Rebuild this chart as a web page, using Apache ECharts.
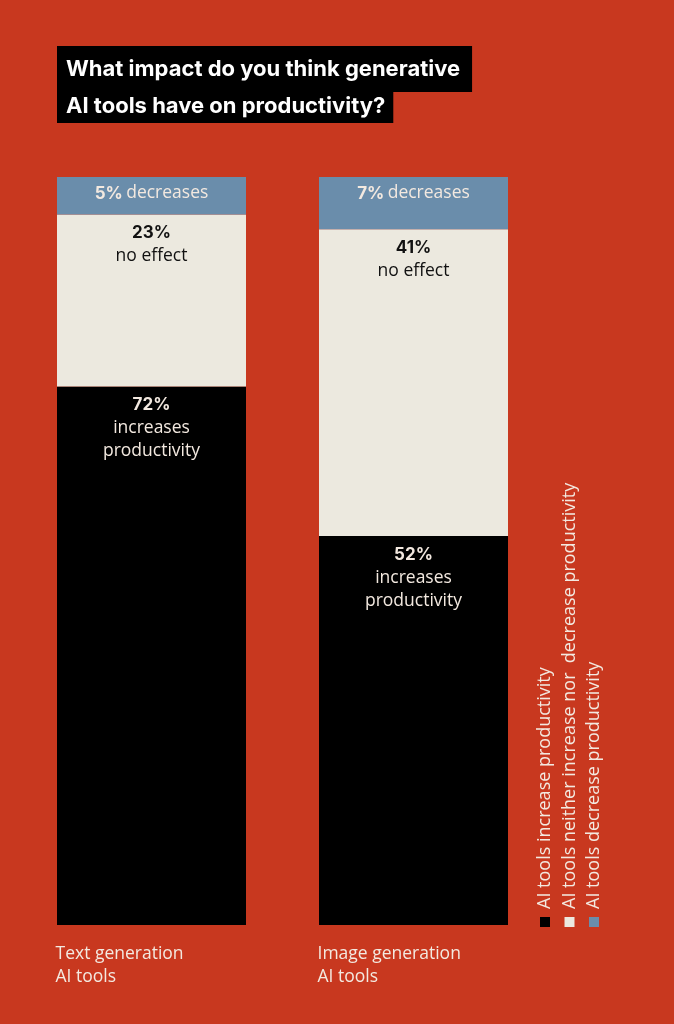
<!DOCTYPE html>
<html>
<head>
<meta charset="utf-8">
<script src="https://cdn.jsdelivr.net/npm/echarts@6/dist/echarts.min.js"></script>
<style>
  html, body { margin: 0; padding: 0; background: #C8381F; }
  #chart { width: 674px; height: 1024px; }
</style>
</head>
<body>
<div id="chart"></div>
<script>
const categories = ['Text generation\nAI tools', 'Image generation\nAI tools'];
const increaseValues = [72, 52];
const noEffectValues = [23, 41];
const decreaseValues = [5, 7];
const seriesNames = [
  'AI tools increase productivity',
  'AI tools neither increase nor  decrease productivity',
  'AI tools decrease productivity'
];
const segmentTexts = ['increases\nproductivity', 'no effect', 'decreases'];
const titleLines = ['What impact do you think generative', 'AI tools have on productivity?'];

const BG = '#C8381F';
const CREAM = '#ECE9DF';
const BLUE = '#6A8DAB';
const LIGHT = '#F3E9E0';
const FONT = '"Open Sans", "Noto Sans", sans-serif';
const BOLD_FONT = 'Inter, sans-serif';
const colors = ['#000000', CREAM, BLUE];

let myChart = echarts.init(document.getElementById('chart'));

function richFor(color) {
  return {
    b: { fontFamily: BOLD_FONT, fontWeight: 'bold', fontSize: 17, color: color, lineHeight: 23 },
    t: { fontFamily: FONT, fontSize: 17.5, color: color, lineHeight: 23 }
  };
}

// legend drawn as rotated text, reading bottom to top
let legendGraphics = [];
seriesNames.forEach(function (name, i) {
  let cx = 545 + i * 24.5;
  legendGraphics.push({
    type: 'rect',
    shape: { x: cx - 5, y: 917, width: 10, height: 10 },
    style: { fill: colors[i] }
  });
  legendGraphics.push({
    type: 'text',
    x: cx,
    y: 909,
    rotation: Math.PI / 2,
    style: {
      text: name,
      fill: LIGHT,
      font: '18px ' + FONT,
      textAlign: 'left',
      textVerticalAlign: 'middle'
    }
  });
});

let option = {
  backgroundColor: BG,
  animation: false,
  title: [
    {
      text: titleLines[0],
      left: 57,
      top: 46,
      backgroundColor: '#000',
      padding: [9, 12, 9, 9],
      textStyle: { color: '#fff', fontFamily: BOLD_FONT, fontWeight: 'bold', fontSize: 22, lineHeight: 28 }
    },
    {
      text: titleLines[1],
      left: 57,
      top: 92,
      backgroundColor: '#000',
      padding: [0, 8, 3, 9],
      textStyle: { color: '#fff', fontFamily: BOLD_FONT, fontWeight: 'bold', fontSize: 22, lineHeight: 28 }
    }
  ],
  grid: {
    left: 20.5,
    right: 129.5,
    top: 177,
    bottom: 99
  },
  xAxis: {
    type: 'category',
    data: categories,
    axisLine: { show: false },
    axisTick: { show: false },
    axisLabel: {
      align: 'left',
      verticalAlign: 'top',
      padding: [0, 0, 0, -96],
      margin: 18,
      color: LIGHT,
      fontFamily: FONT,
      fontSize: 17.5,
      lineHeight: 23
    }
  },
  yAxis: {
    type: 'value',
    min: 0,
    max: 100,
    show: false,
    splitLine: { show: false }
  },
  graphic: legendGraphics,
  series: [
    {
      name: seriesNames[0],
      type: 'bar',
      stack: 'all',
      barWidth: 189,
      data: increaseValues,
      itemStyle: { color: colors[0] },
      label: {
        show: true,
        position: 'insideTop',
        distance: 7,
        align: 'center',
        formatter: function (p) { return '{b|' + p.value + '%}\n{t|' + segmentTexts[0].split('\n').join('}\n{t|') + '}'; },
        rich: richFor(LIGHT)
      }
    },
    {
      name: seriesNames[1],
      type: 'bar',
      stack: 'all',
      barWidth: 189,
      data: noEffectValues,
      itemStyle: { color: colors[1] },
      label: {
        show: true,
        position: 'insideTop',
        distance: 7,
        align: 'center',
        formatter: function (p) { return '{b|' + p.value + '%}\n{t|' + segmentTexts[1] + '}'; },
        rich: richFor('#111')
      }
    },
    {
      name: seriesNames[2],
      type: 'bar',
      stack: 'all',
      barWidth: 189,
      data: decreaseValues,
      itemStyle: { color: colors[2] },
      label: {
        show: true,
        position: 'insideTop',
        distance: 5,
        formatter: function (p) { return '{b|' + p.value + '%} {t|' + segmentTexts[2] + '}'; },
        rich: richFor(LIGHT)
      }
    }
  ]
};

myChart.setOption(option);
</script>
</body>
</html>
